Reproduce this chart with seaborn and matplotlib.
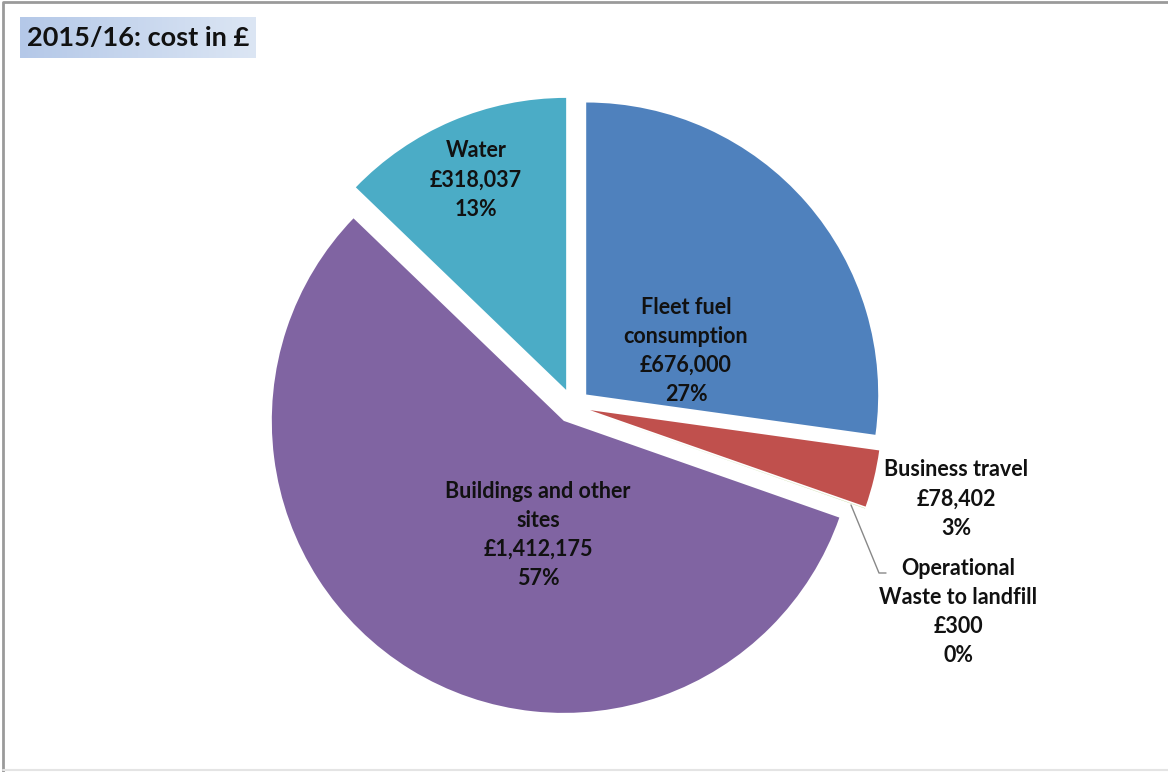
import numpy as np
import matplotlib
matplotlib.use("Agg")
import matplotlib.pyplot as plt
import seaborn as sns
from matplotlib.colors import LinearSegmentedColormap

# Cost breakdown, 2015/16
categories = ["Fleet fuel\nconsumption", "Business travel", "Operational\nWaste to landfill",
              "Buildings and other\nsites", "Water"]
costs = [676000, 78402, 300, 1412175, 318037]
colors = ["#4F81BD", "#C0504D", "#9BBB59", "#8064A2", "#4BACC6"]
title = "2015/16: cost in £"

sns.set_theme(style="white")
plt.rcParams["font.family"] = ["Lato", "DejaVu Sans"]

W, H = 1168, 772
fig = plt.figure(figsize=(W / 100, H / 100), dpi=100)
ax = fig.add_axes([0, 0, 1, 1])

total = sum(costs)
pcts = [round(100 * c / total) for c in costs]

def Y(y):
    return H - y

ax.pie(costs, colors=colors, startangle=90, counterclock=False,
       explode=[17.5] * len(costs), radius=292, center=(573, Y(406)),
       wedgeprops=dict(linewidth=0))

def label(i, x, y):
    txt = f"{categories[i]}\n£{costs[i]:,}\n{pcts[i]}%"
    ax.text(x, Y(y), txt, ha="center", va="center", fontsize=15.5, fontweight="bold",
            color="#111111", linespacing=1.48)

label(0, 686, 351)
label(1, 956, 499)
label(2, 958, 612)
label(3, 538, 535)
label(4, 476, 180)

# leader line for the smallest slice
ax.plot([851, 879, 886], [Y(505), Y(573), Y(573)], color="#888888", lw=1)

# title box with a soft blue gradient
grad = LinearSegmentedColormap.from_list("tb", ["#b4c8e8", "#dce6f4"])
ax.imshow(np.linspace(0, 1, 256).reshape(1, -1), cmap=grad, aspect="auto",
          extent=(20, 256, Y(58), Y(17)), zorder=0)
ax.text(138, Y(38), title, ha="center", va="center", fontsize=19.5, fontweight="bold",
        color="#111111")

# outer frame: darker on the left and top, faint at the bottom
ax.plot([3, 3, W], [Y(H), Y(1.5), Y(1.5)], color="#9a9a9a", lw=2, solid_capstyle="butt")
ax.plot([3, W], [Y(770), Y(770)], color="#e4e4e4", lw=1.5)

ax.set_xlim(0, W)
ax.set_ylim(0, H)
ax.set_aspect("equal")
ax.axis("off")

fig.savefig("out.png", dpi=100)
